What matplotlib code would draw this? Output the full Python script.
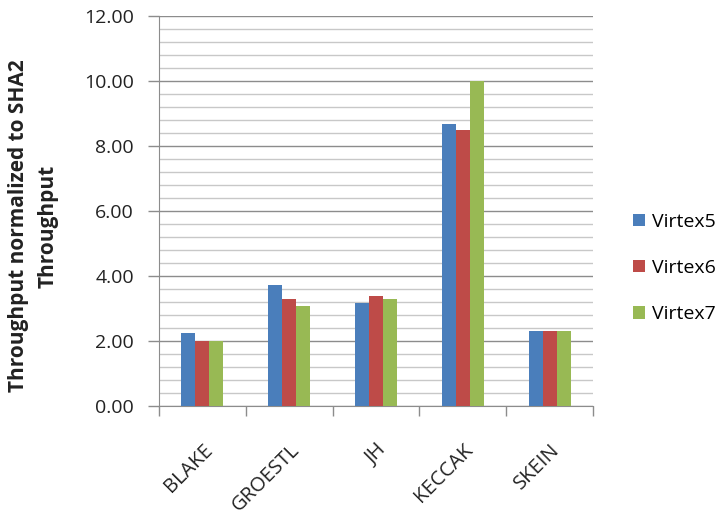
import numpy as np
import matplotlib.pyplot as plt
from matplotlib.ticker import MultipleLocator, FormatStrFormatter

plt.rcParams['font.family'] = ['Open Sans', 'DejaVu Sans']

algorithms = ['BLAKE', 'GROESTL', 'JH', 'KECCAK', 'SKEIN']
series_names = ['Virtex5', 'Virtex6', 'Virtex7']
virtex5 = [2.23, 3.71, 3.15, 8.67, 2.30]
virtex6 = [2.00, 3.29, 3.37, 8.48, 2.30]
virtex7 = [2.00, 3.06, 3.29, 10.00, 2.30]
colors = ['#4a7ebb', '#be4b48', '#98b954']

fig = plt.figure(figsize=(7.27, 5.17), dpi=100)
ax = fig.add_axes([159 / 727, 1 - 405.7 / 517, (593 - 159) / 727, (405.7 - 16) / 517])

x = np.arange(len(algorithms))
w = 0.162
for i, (vals, name) in enumerate(zip([virtex5, virtex6, virtex7], series_names)):
    ax.bar(x + (i - 1) * w, vals, w, color=colors[i], label=name, zorder=3)

ax.set_xlim(-0.5, len(algorithms) - 0.5)
ax.set_ylim(0, 12)
ax.yaxis.set_major_locator(MultipleLocator(2))
ax.yaxis.set_minor_locator(MultipleLocator(0.4))
ax.yaxis.set_major_formatter(FormatStrFormatter('%.2f'))
ax.grid(axis='y', which='major', color='#8c8c8c', lw=1.0, zorder=1)
ax.grid(axis='y', which='minor', color='#c8c8c8', lw=1.0, zorder=1)

# category boundary ticks like excel
ax.set_xticks(np.arange(-0.5, len(algorithms)), minor=False)
ax.set_xticklabels([])
ax.tick_params(axis='x', which='major', length=7, color='#8c8c8c', width=1)
for xi, lab in zip(x, algorithms):
    ax.text(xi, -1.05, lab, rotation=45, ha='right', va='top',
            rotation_mode='anchor', fontsize=14.5, color='#222222')

ax.tick_params(axis='y', which='major', length=8, color='#8c8c8c', width=1,
               labelsize=14, labelcolor='#222222', pad=10)
ax.tick_params(axis='y', which='minor', length=0)

for s in ['top', 'right']:
    ax.spines[s].set_visible(False)
for s in ['left', 'bottom']:
    ax.spines[s].set_color('#8c8c8c')

fig.text(0.046, 0.563, 'Throughput normalized to SHA2\nThroughput', rotation=90,
         ha='center', va='center', fontsize=15, fontweight='bold',
         color='#222222', linespacing=1.5)

handles, labels = ax.get_legend_handles_labels()
fig.legend(handles, labels, loc='center left', bbox_to_anchor=(615 / 727, 1 - 268 / 517),
           frameon=False, fontsize=14, handlelength=0.62, handleheight=0.62,
           handletextpad=0.4, labelspacing=1.45)

fig.savefig('out.png', dpi=100, facecolor='white')
